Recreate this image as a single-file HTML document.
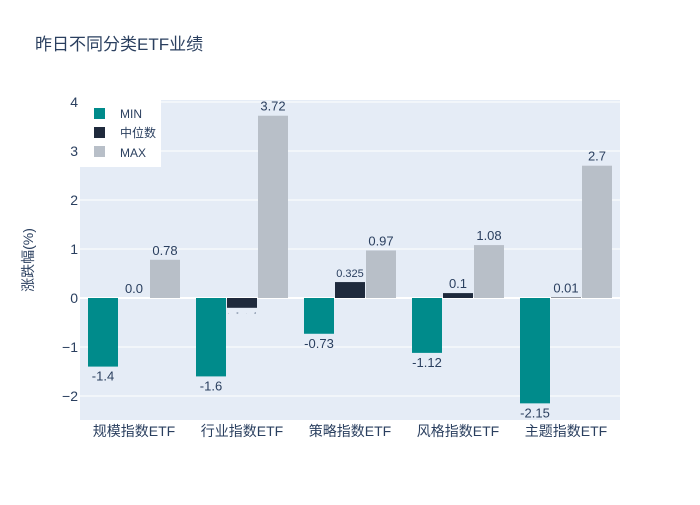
<!DOCTYPE html>
<html><head><meta charset="utf-8"><style>
body{margin:0;background:#fff;font-family:"Liberation Sans","Noto Sans CJK SC",sans-serif;}
text{font-family:"Liberation Sans","Noto Sans CJK SC",sans-serif;}
</style></head><body>
<svg id="c" width="700" height="500" xmlns="http://www.w3.org/2000/svg">
<rect width="700" height="500" fill="#fff"/>
<text x="35" y="50" font-size="17" fill="#2a3f5f">昨日不同分类ETF业绩</text>
<rect x="80" y="100" width="540" height="320" fill="#e5ecf6"/>
<g id="grid"></g><g id="bars"></g><g id="labels"></g>
<text transform="translate(33,260) rotate(-90)" text-anchor="middle" font-size="14" fill="#2a3f5f">涨跌幅(%)</text>
<g>
<rect x="80" y="100" width="81" height="67" fill="#fff"/>
<rect x="94" y="108" width="11" height="11" fill="#008b8b"/><text x="120" y="118" font-size="12" fill="#2a3f5f">MIN</text>
<rect x="94" y="127" width="11" height="11" fill="#1f2a3c"/><text x="120" y="137" font-size="12" fill="#2a3f5f">中位数</text>
<rect x="94" y="146" width="11" height="11" fill="#b8bfc8"/><text x="120" y="157" font-size="12" fill="#2a3f5f">MAX</text>
</g>
</svg>
<script>
const categories=["规模指数ETF","行业指数ETF","策略指数ETF","风格指数ETF","主题指数ETF"];
const minVals=[-1.4,-1.6,-0.73,-1.12,-2.15];
const medVals=[0.0,-0.2,0.325,0.1,0.01];
const maxVals=[0.78,3.72,0.97,1.08,2.7];
const medLabels=["0.0","-0.2","0.325","0.1","0.01"];
const yTicks=[-2,-1,0,1,2,3,4];
const NS="http://www.w3.org/2000/svg";
const y=v=>298-v*49;
const x0=80,bw=108;
function el(t,a,p){const e=document.createElementNS(NS,t);for(const k in a)e.setAttribute(k,a[k]);document.getElementById(p).appendChild(e);return e;}
yTicks.forEach(t=>{
 const l=el("line",{x1:80,x2:620,y1:y(t),y2:y(t),stroke:"#fff","stroke-width":t===0?2:1},"grid");
 
 
 const tx=el("text",{x:78,y:y(t)+5,"text-anchor":"end","font-size":14,fill:"#2a3f5f"},"grid");
 tx.textContent=t<0?"−"+(-t):t;
 
 
});
const series=[[minVals,"#008b8b","min"],[medVals,"#1f2a3c","median"],[maxVals,"#b8bfc8","max"]];
categories.forEach((c,i)=>{
 const cx=x0+bw*i+bw/2;
 const t=el("text",{x:cx,y:436,"text-anchor":"middle","font-size":14,fill:"#2a3f5f"},"labels");
 t.textContent=c;
 
 
 series.forEach((s,j)=>{
  const v=s[0][i];const bx=cx-46+j*31;
  const r=el("rect",{x:bx,y:Math.min(y(v),y(0)),width:30,height:Math.abs(y(v)-y(0)),fill:s[1]},"bars");
  
  
  const lab=j===1?medLabels[i]:String(v);
  const small=j===1&&(i===2);
  let fs=small?11:13, ly=v>=0?y(v)-5:y(v)+14;
  const attrs={x:bx+15,y:ly,"text-anchor":"middle","font-size":fs,fill:"#2a3f5f"};
  if(j===1&&v<0){attrs["font-size"]=3;attrs.y=y(v)+6;attrs.x=bx+1;attrs["text-anchor"]="start";attrs.textLength=28;attrs.lengthAdjust="spacing";}
  const lt=el("text",attrs,"labels");
  lt.textContent=lab;
  
  
 });
});
</script>
</body></html>
